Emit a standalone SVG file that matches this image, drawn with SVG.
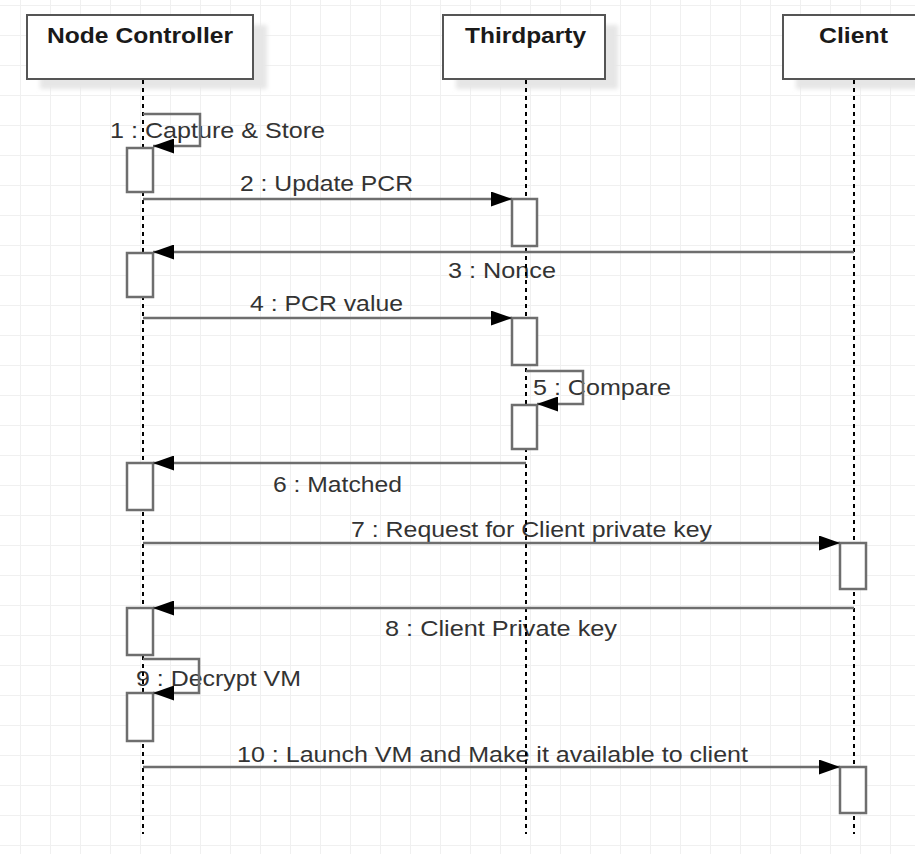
<svg xmlns="http://www.w3.org/2000/svg" width="915" height="854" viewBox="0 0 915 854">
<style>
.hdr{fill:#fff;stroke:#555;stroke-width:2}
.shd{fill:#e6e6e6;filter:url(#blur)}
.title{font-family:"Liberation Sans",Arial,sans-serif;font-weight:bold;font-size:22px;fill:#1a1a1a}
.life{stroke:#000;stroke-width:2;stroke-dasharray:4 4;fill:none}
.act{fill:#fff;stroke:#6e6e6e;stroke-width:2.5}
.msg{stroke:#6e6e6e;stroke-width:2.5;fill:none;marker-end:url(#arr)}
.lbl{font-family:"Liberation Sans",Arial,sans-serif;font-size:22px;fill:#333}
</style>
<defs>
<pattern id="grid" width="30" height="30" patternUnits="userSpaceOnUse" x="20" y="5">
<path d="M0 0.5H30M0.5 0V30" stroke="#f0f0f0" stroke-width="1" fill="none"/>
</pattern>
<filter id="blur" x="-10%" y="-10%" width="120%" height="130%"><feGaussianBlur stdDeviation="2"/></filter>
<marker id="arr" markerWidth="21" markerHeight="15" refX="21" refY="7.5" orient="auto" markerUnits="userSpaceOnUse">
<path d="M0 0L21 7.5L0 15z" fill="#000"/>
</marker>
</defs>
<rect width="915" height="854" fill="#fff"/>
<rect width="915" height="854" fill="url(#grid)"/>

<g id="labels">
<text class="lbl" x="110" y="138" textLength="215" lengthAdjust="spacingAndGlyphs">1 : Capture &amp; Store</text>
<text class="lbl" x="240" y="191" textLength="173" lengthAdjust="spacingAndGlyphs">2 : Update PCR</text>
<text class="lbl" x="448" y="278" textLength="108" lengthAdjust="spacingAndGlyphs">3 : Nonce</text>
<text class="lbl" x="250" y="311" textLength="153" lengthAdjust="spacingAndGlyphs">4 : PCR value</text>
<text class="lbl" x="533" y="395" textLength="138" lengthAdjust="spacingAndGlyphs">5 : Compare</text>
<text class="lbl" x="273" y="492" textLength="129" lengthAdjust="spacingAndGlyphs">6 : Matched</text>
<text class="lbl" x="351" y="537" textLength="361" lengthAdjust="spacingAndGlyphs">7 : Request for Client private key</text>
<text class="lbl" x="385" y="636" textLength="232" lengthAdjust="spacingAndGlyphs">8 : Client Private key</text>
<text class="lbl" x="136" y="686" textLength="165" lengthAdjust="spacingAndGlyphs">9 : Decrypt VM</text>
<text class="lbl" x="237" y="762" textLength="511" lengthAdjust="spacingAndGlyphs">10 : Launch VM and Make it available to client</text>
</g>

<g id="node-controller">
<rect class="shd" x="40" y="25" width="227" height="64"/>
<rect class="hdr" x="27" y="15" width="226" height="64"/>
<text class="title" x="47" y="43" textLength="186" lengthAdjust="spacingAndGlyphs">Node Controller</text>
<line class="life" x1="143" y1="80" x2="143" y2="834"/>
<rect class="act" x="127" y="148" width="26" height="44"/>
<rect class="act" x="127" y="253" width="26" height="44"/>
<rect class="act" x="127" y="463" width="26" height="47"/>
<rect class="act" x="127" y="608" width="26" height="47"/>
<rect class="act" x="127" y="693" width="26" height="48"/>
</g>

<g id="thirdparty">
<rect class="shd" x="456" y="25" width="162" height="64"/>
<rect class="hdr" x="443" y="15" width="162" height="64"/>
<text class="title" x="465" y="43" textLength="121" lengthAdjust="spacingAndGlyphs">Thirdparty</text>
<line class="life" x1="526" y1="80" x2="526" y2="834"/>
<rect class="act" x="512" y="199" width="25" height="47"/>
<rect class="act" x="512" y="318" width="25" height="47"/>
<rect class="act" x="512" y="405" width="25" height="44"/>
</g>

<g id="client">
<rect class="shd" x="796" y="25" width="140" height="64"/>
<rect class="hdr" x="783" y="15" width="140" height="64"/>
<text class="title" x="819" y="43" textLength="69" lengthAdjust="spacingAndGlyphs">Client</text>
<line class="life" x1="854" y1="80" x2="854" y2="834"/>
<rect class="act" x="840" y="543" width="26" height="46"/>
<rect class="act" x="840" y="767" width="26" height="46"/>
</g>

<g id="connectors">
<path class="msg" d="M143 114H200V146H153"/>
<path class="msg" d="M143 199H512"/>
<path class="msg" d="M854 252H153"/>
<path class="msg" d="M143 318H512"/>
<path class="msg" d="M526 371H583V404H537"/>
<path class="msg" d="M526 463H153"/>
<path class="msg" d="M143 543H840"/>
<path class="msg" d="M854 608H153"/>
<path class="msg" d="M143 659H199V693H153"/>
<path class="msg" d="M143 767H840"/>
</g>
</svg>
